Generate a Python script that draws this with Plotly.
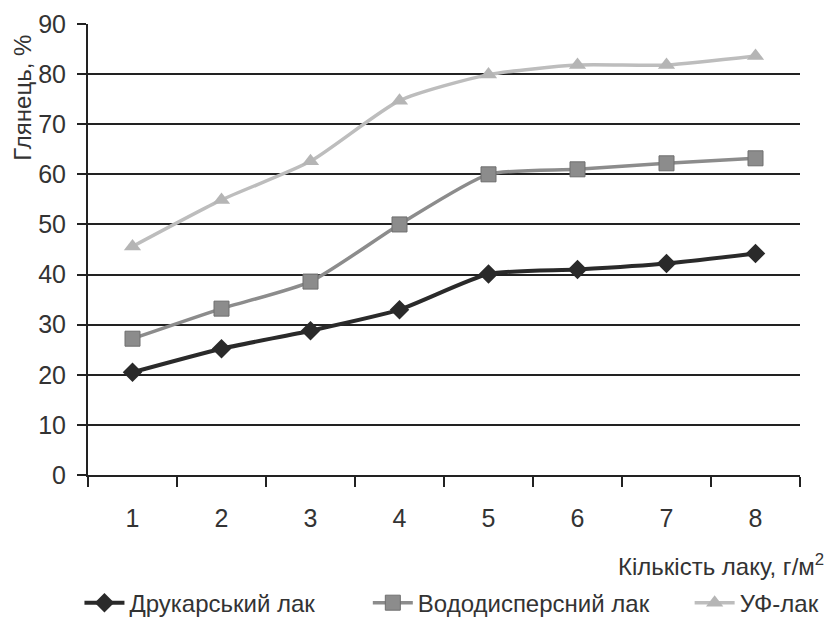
import plotly.graph_objects as go

categories = ["1", "2", "3", "4", "5", "6", "7", "8"]
druk = [20.5, 25.2, 28.8, 33.0, 40.1, 41.0, 42.2, 44.2]
vodo = [27.2, 33.2, 38.6, 50.0, 60.0, 61.0, 62.2, 63.2]
uf = [45.6, 54.9, 62.6, 74.7, 79.9, 81.8, 81.8, 83.6]
series_names = ["Друкарський лак", "Вододисперсний лак", "УФ-лак"]
y_ticks = [0, 10, 20, 30, 40, 50, 60, 70, 80, 90]

FONT = "Liberation Sans, Arial, sans-serif"
TXT = "#333333"

fig = go.Figure()
fig.add_trace(go.Scatter(
    x=categories, y=druk, name=series_names[0], mode="lines+markers", legend="legend",
    line=dict(color="#2a2a2a", width=4, shape="spline", smoothing=0.6),
    marker=dict(symbol="diamond", size=15, color="#2a2a2a")))
fig.add_trace(go.Scatter(
    x=categories, y=vodo, name=series_names[1], mode="lines+markers", legend="legend2",
    line=dict(color="#8c8c8c", width=3.5, shape="spline", smoothing=0.6),
    marker=dict(symbol="square", size=15, color="#8c8c8c",
                line=dict(color="#6e6e6e", width=1))))
fig.add_trace(go.Scatter(
    x=categories, y=uf, name=series_names[2], mode="lines+markers", legend="legend3",
    line=dict(color="#bdbdbd", width=3.5, shape="spline", smoothing=0.6),
    marker=dict(symbol="triangle-up", size=15, color="#b5b5b5")))

leg_common = dict(orientation="h", y=-0.284, yanchor="middle", xanchor="left",
                  font=dict(size=24, family=FONT, color=TXT), itemwidth=40,
                  bgcolor="rgba(0,0,0,0)")

# the page body has an 8px margin, so the figure is 8px smaller than the window
fig.update_layout(
    width=832, height=609,
    margin=dict(l=80, r=40, t=16, b=142, autoexpand=False),
    paper_bgcolor="white", plot_bgcolor="white",
    font=dict(family=FONT, color=TXT),
    showlegend=True,
    legend=dict(x=-0.012, **leg_common),
    legend2=dict(x=0.393, **leg_common),
    legend3=dict(x=0.845, **leg_common),
    xaxis=dict(type="category", tickson="boundaries", ticks="outside", ticklen=10,
               tickwidth=2, tickcolor="#222222", showline=True, linecolor="#222222",
               linewidth=2, showgrid=False, zeroline=False, automargin=False,
               tickfont=dict(size=25, family=FONT, color=TXT),
               ticklabelstandoff=20, range=[-0.5, 7.5]),
    yaxis=dict(range=[0, 90], tickvals=y_ticks, ticks="outside", ticklen=9,
               tickwidth=2, tickcolor="#222222", showline=True, linecolor="#222222",
               linewidth=2, showgrid=True, gridcolor="#222222", gridwidth=2,
               zeroline=False, automargin=False,
               tickfont=dict(size=25, family=FONT, color=TXT),
               ticklabelstandoff=6),
)

fig.add_annotation(text="Глянець, %", xref="paper", yref="paper",
                   x=-0.0915, y=0.836, textangle=-90, showarrow=False,
                   font=dict(size=24, family=FONT, color=TXT), borderpad=0,
                   xanchor="center", yanchor="middle")
fig.add_annotation(text="Кількість лаку, г/м<sup>2</sup>", xref="paper", yref="paper",
                   x=1.0365, y=-0.2, showarrow=False, xanchor="right", yanchor="middle",
                   font=dict(size=24, family=FONT, color=TXT))

fig.write_html("out.html")
